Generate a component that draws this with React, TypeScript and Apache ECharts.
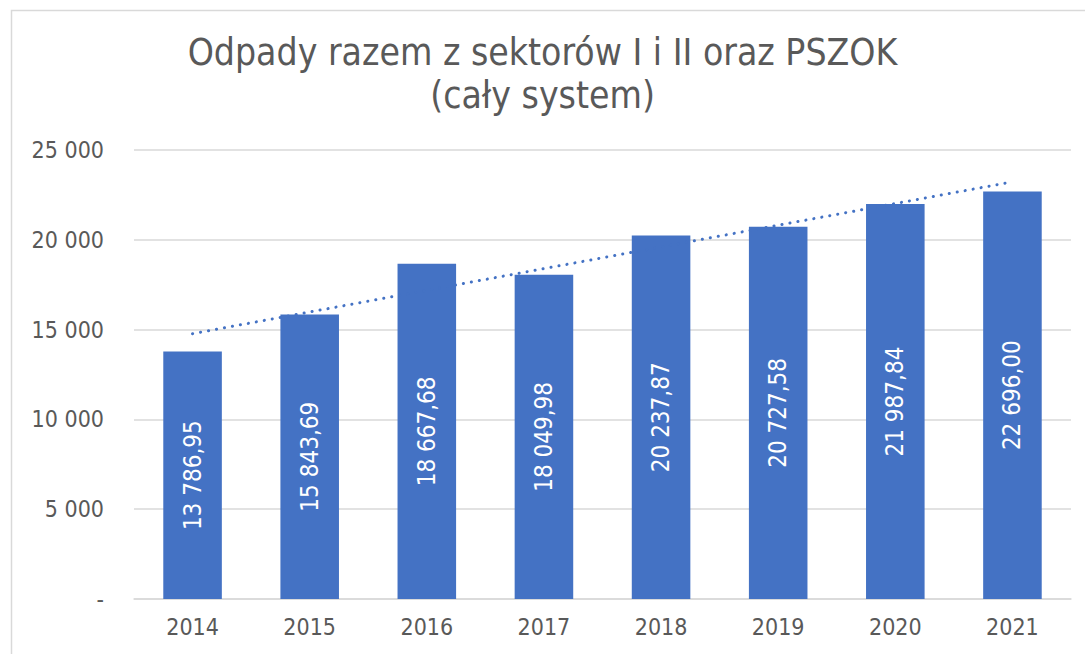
import React, { useEffect, useRef } from "react";
import * as echarts from "echarts";

const years = ["2014", "2015", "2016", "2017", "2018", "2019", "2020", "2021"];
const values = [13786.95, 15843.69, 18667.68, 18049.98, 20237.87, 20727.58, 21987.84, 22696.0];
const titleLines = ["Odpady razem z sektorów I i II oraz PSZOK", "(cały system)"];

function linearTrend(ys: number[]): number[] {
  const n = ys.length;
  const mx = (n - 1) / 2;
  const my = ys.reduce((a, b) => a + b, 0) / n;
  let sxy = 0;
  let sxx = 0;
  ys.forEach((y, i) => {
    sxy += (i - mx) * (y - my);
    sxx += (i - mx) * (i - mx);
  });
  const slope = sxy / sxx;
  return ys.map((_, i) => my + slope * (i - mx));
}

function fmtAxis(v: number): string {
  if (v === 0) return "-";
  return String(v).replace(/\B(?=(\d{3})+(?!\d))/g, " ");
}

function fmtLabel(v: number): string {
  const [i, d] = v.toFixed(2).split(".");
  return i.replace(/\B(?=(\d{3})+(?!\d))/g, " ") + "," + d;
}

const FONT = "'DejaVu Sans Condensed', 'Noto Sans', sans-serif";
const GRAY = "#595959";
const BLUE = "#4472C4";

export default function App() {
  const ref = useRef<HTMLDivElement>(null);
  useEffect(() => {
    if (!ref.current) return;
    const chart = echarts.init(ref.current, undefined, { renderer: "svg" });
    const trend = linearTrend(values);
    chart.setOption({
      animation: false,
      backgroundColor: "#ffffff",
      graphic: [
        {
          type: "rect",
          shape: { x: 11.5, y: 10.5, width: 1100, height: 700 },
          style: { fill: "none", stroke: "#d9d9d9", lineWidth: 1.5 },
          silent: true,
        },
      ],
      title: {
        text: titleLines.join("\n"),
        left: "center",
        top: 26,
        textStyle: {
          fontFamily: FONT,
          fontSize: 37,
          fontWeight: "normal",
          color: GRAY,
          lineHeight: 43,
        },
      },
      grid: { left: 134, right: 14, top: 150, bottom: 55, containLabel: false },
      xAxis: {
        type: "category",
        data: years,
        axisLine: { lineStyle: { color: "#d9d9d9", width: 1.5 } },
        axisTick: { show: false },
        axisLabel: { color: GRAY, fontFamily: FONT, fontSize: 23, margin: 16 },
      },
      yAxis: {
        type: "value",
        min: 0,
        max: 25000,
        interval: 5000,
        axisLine: { show: false },
        axisTick: { show: false },
        splitLine: { lineStyle: { color: "#d9d9d9", width: 1.5 } },
        axisLabel: {
          color: GRAY,
          fontFamily: FONT,
          fontSize: 23,
          margin: 30,
          formatter: (v: number) => fmtAxis(v),
        },
      },
      series: [
        {
          type: "bar",
          data: values,
          barWidth: "50%",
          itemStyle: { color: BLUE },
          label: {
            show: true,
            position: "inside",
            rotate: 90,
            color: "#ffffff",
            fontFamily: FONT,
            fontSize: 24,
            formatter: (p: any) => fmtLabel(p.value),
          },
        },
        {
          type: "line",
          data: trend,
          symbol: "none",
          silent: true,
          z: 5,
          lineStyle: {
            color: BLUE,
            width: 3,
            type: [0.1, 8],
            cap: "round",
          },
        },
      ],
    });
    return () => chart.dispose();
  }, []);
  return (
    <div
      ref={ref}
      style={{ position: "fixed", left: 0, top: 0, width: 1085, height: 654 }}
    />
  );
}
